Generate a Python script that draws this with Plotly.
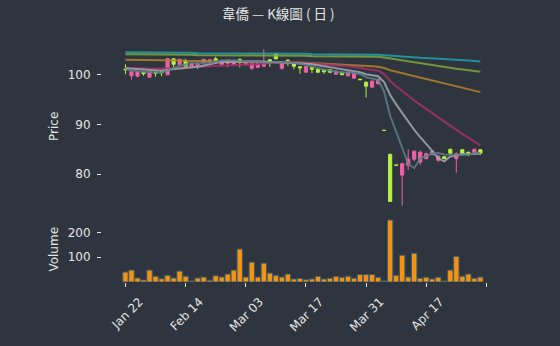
import plotly.graph_objects as go

# ---------------- data ----------------
dates = ["2025-01-22", "2025-02-03", "2025-02-04", "2025-02-05", "2025-02-06", "2025-02-07",
         "2025-02-10", "2025-02-11", "2025-02-12", "2025-02-13", "2025-02-14",
         "2025-02-17", "2025-02-18", "2025-02-19", "2025-02-20", "2025-02-21",
         "2025-02-24", "2025-02-25", "2025-02-26", "2025-02-27", "2025-03-03",
         "2025-03-04", "2025-03-05", "2025-03-06", "2025-03-07", "2025-03-10",
         "2025-03-11", "2025-03-12", "2025-03-13", "2025-03-14", "2025-03-17",
         "2025-03-18", "2025-03-19", "2025-03-20", "2025-03-21", "2025-03-24",
         "2025-03-25", "2025-03-26", "2025-03-27", "2025-03-28", "2025-03-31",
         "2025-04-01", "2025-04-02", "2025-04-07", "2025-04-09", "2025-04-10",
         "2025-04-11", "2025-04-14", "2025-04-15", "2025-04-16", "2025-04-17",
         "2025-04-18", "2025-04-21", "2025-04-22", "2025-04-23", "2025-04-24",
         "2025-04-25", "2025-04-28", "2025-04-29", "2025-04-30"]

opens = [101.1, 99.8, 99.7, 100.5, 99.5, 100.5, 100.6, 100.0, 103.2, 102.0,
         102.8, 101.5, 101.7, 102.4, 102.5, 103.2, 102.0, 102.3, 102.0, 103.1,
         102.0, 101.3, 101.5, 101.7, 103.0, 104.2, 101.3, 102.9, 102.2, 101.6,
         100.5, 101.5, 101.1, 100.9, 101.0, 100.1, 100.5, 99.8, 99.3, 99.1,
         98.5, 97.5, 98.2, 88.8, 84.0, 81.8, 79.8, 81.8, 83.0, 82.4,
         83.1, 83.9, 82.8, 83.5, 85.0, 83.1, 84.9, 84.4, 84.4, 84.9]
highs = [102.1, 100.7, 100.7, 100.6, 100.7, 100.6, 100.7, 103.4, 103.3, 103.2,
         103.2, 102.3, 102.6, 103.2, 103.2, 103.6, 103.0, 102.9, 102.8, 103.2,
         102.7, 102.5, 102.5, 105.1, 103.1, 104.3, 102.3, 103.1, 102.3, 101.7,
         101.7, 101.6, 101.2, 101.0, 101.1, 100.8, 100.6, 100.6, 100.4, 99.1,
         98.6, 98.8, 99.3, 88.8, 84.0, 81.8, 82.2, 85.0, 84.8, 84.8,
         84.3, 84.7, 83.8, 83.5, 85.1, 84.4, 85.0, 84.5, 85.1, 85.0]
lows = [100.1, 99.0, 99.5, 99.8, 99.3, 99.6, 99.7, 99.9, 101.2, 101.9,
        101.4, 101.4, 101.1, 102.3, 102.4, 102.2, 101.9, 101.5, 101.9, 101.5,
        101.9, 101.0, 101.3, 101.6, 101.6, 103.1, 101.0, 101.8, 101.1, 100.2,
        100.4, 100.3, 100.5, 100.2, 100.4, 100.0, 99.9, 99.7, 99.2, 99.0,
        95.4, 97.4, 98.0, 88.8, 74.5, 81.8, 73.7, 80.8, 82.6, 81.8,
        83.0, 83.8, 82.5, 83.1, 84.0, 80.3, 84.0, 83.6, 84.3, 83.9]
closes = [101.0, 100.6, 100.6, 100.2, 100.6, 100.3, 100.4, 103.2, 102.1, 103.1,
          101.5, 102.2, 102.2, 103.1, 103.0, 102.9, 102.9, 102.8, 102.7, 102.5,
          102.6, 102.4, 102.4, 102.4, 102.3, 103.2, 102.2, 102.6, 101.7, 101.4,
          101.6, 101.1, 100.5, 100.6, 100.5, 100.7, 100.0, 100.5, 100.3, 99.0,
          97.7, 98.7, 99.0, 88.8, 74.5, 81.8, 82.1, 83.0, 84.6, 84.4,
          84.1, 84.6, 83.6, 83.1, 84.2, 84.1, 84.1, 83.9, 85.0, 84.2]
volumes = [40, 48, 16, 8, 48, 23, 13, 27, 16, 44,
           23, 4, 16, 20, 7, 25, 20, 32, 48, 133,
           20, 80, 20, 76, 36, 27, 20, 32, 12, 14,
           9, 12, 23, 12, 15, 23, 19, 23, 15, 30,
           30, 30, 19, 4, 250, 27, 108, 20, 116, 15,
           19, 12, 19, 4, 48, 103, 23, 32, 15, 20]

ma5 = [101.0, 100.8, 100.7, 100.6, 100.6, 100.46, 100.42, 100.94, 101.32, 101.82,
       102.06, 102.42, 102.22, 102.42, 102.4, 102.68, 102.82, 102.94, 102.86, 102.76,
       102.7, 102.6, 102.52, 102.46, 102.42, 102.54, 102.5, 102.54, 102.4, 102.22,
       101.9, 101.68, 101.26, 101.04, 100.86, 100.68, 100.46, 100.46, 100.4, 100.1,
       99.5, 99.24, 98.94, 96.64, 91.74, 88.56, 85.24, 82.04, 81.2, 83.18,
       83.64, 84.14, 84.26, 83.96, 83.92, 83.92, 83.82, 83.88, 84.26, 84.26]
ma10 = [101.3, 101.2, 101.1, 101.0, 100.9, 100.8, 100.8, 101.0, 101.1, 101.21,
        101.26, 101.42, 101.58, 101.87, 102.11, 102.37, 102.62, 102.58, 102.64, 102.58,
        102.69, 102.71, 102.73, 102.66, 102.59, 102.62, 102.55, 102.53, 102.43, 102.32,
        102.22, 102.09, 101.9, 101.72, 101.54, 101.29, 101.07, 100.86, 100.72, 100.48,
        100.09, 99.85, 99.7, 98.52, 95.92, 94.03, 92.24, 90.49, 88.92, 87.46,
        86.1, 84.69, 83.15, 82.58, 83.55, 83.78, 83.98, 84.07, 84.11, 84.09]
ma20 = [101.35, 101.3, 101.3, 101.25, 101.25, 101.2, 101.2, 101.3, 101.35, 101.4,
        101.45, 101.5, 101.55, 101.6, 101.65, 101.7, 101.75, 101.8, 101.85, 101.9,
        101.98, 102.07, 102.16, 102.27, 102.35, 102.5, 102.59, 102.56, 102.54, 102.45,
        102.46, 102.4, 102.32, 102.19, 102.07, 101.96, 101.81, 101.7, 101.58, 101.4,
        101.16, 100.97, 100.8, 100.12, 98.73, 97.66, 96.66, 95.68, 94.82, 93.97,
        93.1, 92.27, 91.43, 90.55, 89.74, 88.91, 88.11, 87.28, 86.52, 85.78]
ma60 = [103.0, 103.0, 103.0, 102.95, 102.95, 102.9, 102.9, 102.9, 102.85, 102.85,
        102.8, 102.8, 102.8, 102.75, 102.75, 102.7, 102.7, 102.65, 102.65, 102.6,
        102.6, 102.6, 102.55, 102.55, 102.5, 102.5, 102.5, 102.5, 102.45, 102.45,
        102.4, 102.35, 102.3, 102.25, 102.2, 102.1, 102.05, 102.0, 101.9, 101.85,
        101.75, 101.7, 101.6, 101.35, 100.9, 100.6, 100.3, 100.0, 99.7, 99.4,
        99.1, 98.8, 98.5, 98.2, 97.9, 97.6, 97.3, 97.0, 96.75, 96.5]
ma120 = [104.1, 104.1, 104.1, 104.1, 104.1, 104.0, 104.0, 104.0, 104.0, 104.0,
         104.0, 104.0, 103.9, 103.9, 103.9, 103.9, 103.9, 103.9, 103.9, 103.9,
         103.9, 103.8, 103.8, 103.8, 103.8, 103.8, 103.8, 103.8, 103.8, 103.8,
         103.8, 103.7, 103.7, 103.7, 103.7, 103.7, 103.7, 103.7, 103.6, 103.6,
         103.6, 103.6, 103.6, 103.45, 103.25, 103.05, 102.85, 102.65, 102.45, 102.25,
         102.05, 101.85, 101.65, 101.5, 101.35, 101.2, 101.05, 100.9, 100.75, 100.6]
ma240 = [104.5, 104.5, 104.5, 104.5, 104.5, 104.4, 104.4, 104.4, 104.4, 104.4,
         104.4, 104.4, 104.3, 104.3, 104.3, 104.3, 104.3, 104.3, 104.3, 104.3,
         104.3, 104.2, 104.2, 104.2, 104.2, 104.2, 104.2, 104.2, 104.2, 104.2,
         104.2, 104.1, 104.1, 104.1, 104.1, 104.1, 104.1, 104.1, 104.1, 104.0,
         104.0, 104.0, 104.0, 103.9, 103.8, 103.7, 103.6, 103.55, 103.5, 103.4,
         103.35, 103.3, 103.2, 103.15, 103.1, 103.0, 102.95, 102.85, 102.75, 102.65]

title_text = "韋僑 — K線圖 ( 日 )"
month_abbr = ["Jan", "Feb", "Mar", "Apr", "May", "Jun",
              "Jul", "Aug", "Sep", "Oct", "Nov", "Dec"]

# ---------------- styles ----------------
BG = "#2f353e"
TXT = "#e4e4e4"
PINK = "#ef62a6"
LIME = "#b7f23c"
FONT = "DejaVu Sans"

n = len(dates)
idx = list(range(n))
up = [c > o for o, c in zip(opens, closes)]


def sel(arr, flag):
    return [a for a, u in zip(arr, up) if u == flag]


def fmt(d):
    y, m, dd = d.split("-")
    return f"{month_abbr[int(m) - 1]} {dd}"


tickvals = list(range(0, n + 1, 10))
ticktext = [fmt(dates[i]) if i < n else "" for i in tickvals]

fig = go.Figure()

for flag, col in [(True, PINK), (False, LIME)]:
    style = dict(line=dict(color=col, width=1), fillcolor=col)
    fig.add_trace(go.Candlestick(
        x=sel(idx, flag), open=sel(opens, flag), high=sel(highs, flag),
        low=sel(lows, flag), close=sel(closes, flag),
        increasing=style, decreasing=style, whiskerwidth=0,
        showlegend=False, xaxis="x", yaxis="y", hoverinfo="skip"))

ma_specs = [
    (ma240, "#1fa2b0"),
    (ma120, "#7ea83c"),
    (ma60, "#b5822b"),
    (ma20, "#a8306c"),
    (ma10, "#a3a9b2"),
    (ma5, "#5a8086"),
]
for vals, col in ma_specs:
    fig.add_trace(go.Scatter(x=idx, y=vals, mode="lines",
                             line=dict(color=col, width=2), opacity=0.85,
                             showlegend=False, xaxis="x", yaxis="y",
                             hoverinfo="skip"))

fig.add_trace(go.Bar(x=idx, y=volumes, width=0.9,
                     marker=dict(color="#f5920f", line=dict(color="#3d5c6e", width=1)),
                     showlegend=False, xaxis="x2", yaxis="y2", hoverinfo="skip"))

xr = [-3.9, 60.6]
fig.update_layout(
    width=560, height=346,
    margin=dict(l=102, r=70, t=42, b=62),
    paper_bgcolor=BG, plot_bgcolor=BG,
    font=dict(family=FONT, size=12, color=TXT),
    title=dict(text=title_text, x=0.497, xanchor="center", y=0.958, yanchor="middle",
               font=dict(family="Noto Sans CJK TC", size=13.5, color=TXT)),
    boxgap=0.25,
    bargap=0.1,
    xaxis=dict(domain=[0, 1], anchor="y", range=xr, showticklabels=False,
               ticks="", showgrid=False, zeroline=False, showline=False,
               rangeslider=dict(visible=False), matches="x2"),
    xaxis2=dict(domain=[0, 1], anchor="y2", range=xr, tickmode="array",
                tickvals=tickvals, ticktext=ticktext, tickangle=-45,
                ticks="outside", ticklen=4, tickcolor=TXT, tickwidth=1,
                ticklabelshift=14, ticklabelstandoff=3,
                showgrid=False, zeroline=False, showline=False,
                tickfont=dict(size=12, color=TXT)),
    yaxis=dict(domain=[0.2975, 1], anchor="x", range=[72.66, 106.58],
               tickmode="array", tickvals=[80, 90, 100],
               ticks="outside", ticklen=4, tickcolor=TXT, tickwidth=1,
               showgrid=False, zeroline=False, showline=False,
               ticklabelstandoff=4,
               title=dict(text="Price", standoff=6, font=dict(size=12, color=TXT))),
    yaxis2=dict(domain=[0, 0.2727], anchor="x2", range=[0, 264],
                tickmode="array", tickvals=[100, 200],
                ticks="outside", ticklen=4, tickcolor=TXT, tickwidth=1,
                showgrid=False, zeroline=False, showline=False,
                ticklabelstandoff=4,
                title=dict(text="Volume", standoff=6, font=dict(size=12, color=TXT))),
)

fig.write_html("out.html")
